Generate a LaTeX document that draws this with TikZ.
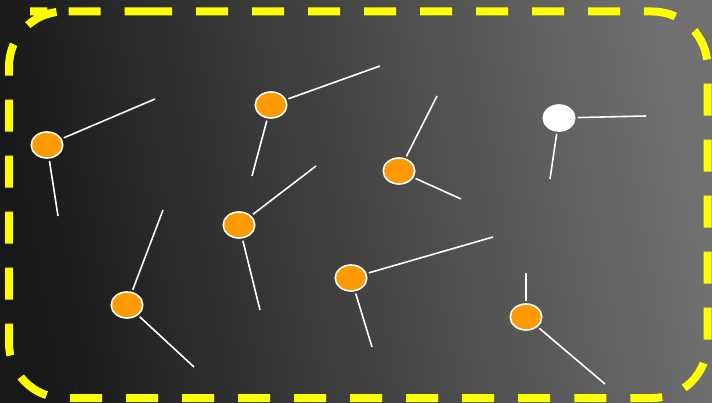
\documentclass[tikz,border=0pt]{standalone}
\usepackage{xcolor}
\usepackage{tikz}
\usetikzlibrary{shapes.geometric}
\definecolor{bgDark}{RGB}{24,24,24}
\definecolor{bgLight}{RGB}{112,112,112}
\definecolor{ballOrange}{RGB}{255,153,0}
\definecolor{frameYellow}{RGB}{255,255,0}

\begin{document}
\begin{tikzpicture}[x=1pt, y=-1pt,
  ball/.style={ellipse, draw=white, line width=1.6pt, fill=ballOrange,
    minimum width=31.5pt, minimum height=26pt, inner sep=0pt, outer sep=3pt},
  stick/.style={white, line width=1.6pt}]
\shade[left color=bgDark, right color=bgLight, shading angle=100] (0,0) rectangle (712,403);
\useasboundingbox (0,0) rectangle (712,403);
\draw[frameYellow, line width=8pt, dash pattern=on 32pt off 24pt, rounded corners=55pt]
  (85,11.5) -- (707.5,11.5) -- (707.5,398) -- (9,398) -- (9,11.5) -- cycle;

\node[ball] (b1) at (47,145) {};
\node[ball] (b2) at (271,105) {};
\node[ball] (b3) at (399,171) {};
\node[ball, fill=white] (b4) at (559,118) {};
\node[ball] (b5) at (239,225) {};
\node[ball] (b6) at (127,305) {};
\node[ball] (b7) at (351,278) {};
\node[ball] (b8) at (526,317) {};

\coordinate (e1a) at (155,99);  \coordinate (e1b) at (58,216);
\coordinate (e2a) at (380,66);  \coordinate (e2b) at (252,176);
\coordinate (e3a) at (437,96);  \coordinate (e3b) at (461,199);
\coordinate (e4a) at (646,116); \coordinate (e4b) at (550,179);
\coordinate (e5a) at (316,166); \coordinate (e5b) at (260,310);
\coordinate (e6a) at (163,210); \coordinate (e6b) at (194,367);
\coordinate (e7a) at (493,237); \coordinate (e7b) at (372,347);
\coordinate (e8a) at (526,273); \coordinate (e8b) at (605,384);

\draw[stick] (b1) -- (e1a); \draw[stick] (b1) -- (e1b);
\draw[stick] (b2) -- (e2a); \draw[stick] (b2) -- (e2b);
\draw[stick] (b3) -- (e3a); \draw[stick] (b3) -- (e3b);
\draw[stick] (b4) -- (e4a); \draw[stick] (b4) -- (e4b);
\draw[stick] (b5) -- (e5a); \draw[stick] (b5) -- (e5b);
\draw[stick] (b6) -- (e6a); \draw[stick] (b6) -- (e6b);
\draw[stick] (b7) -- (e7a); \draw[stick] (b7) -- (e7b);
\draw[stick] (b8) -- (e8a); \draw[stick] (b8) -- (e8b);
\end{tikzpicture}
\end{document}
